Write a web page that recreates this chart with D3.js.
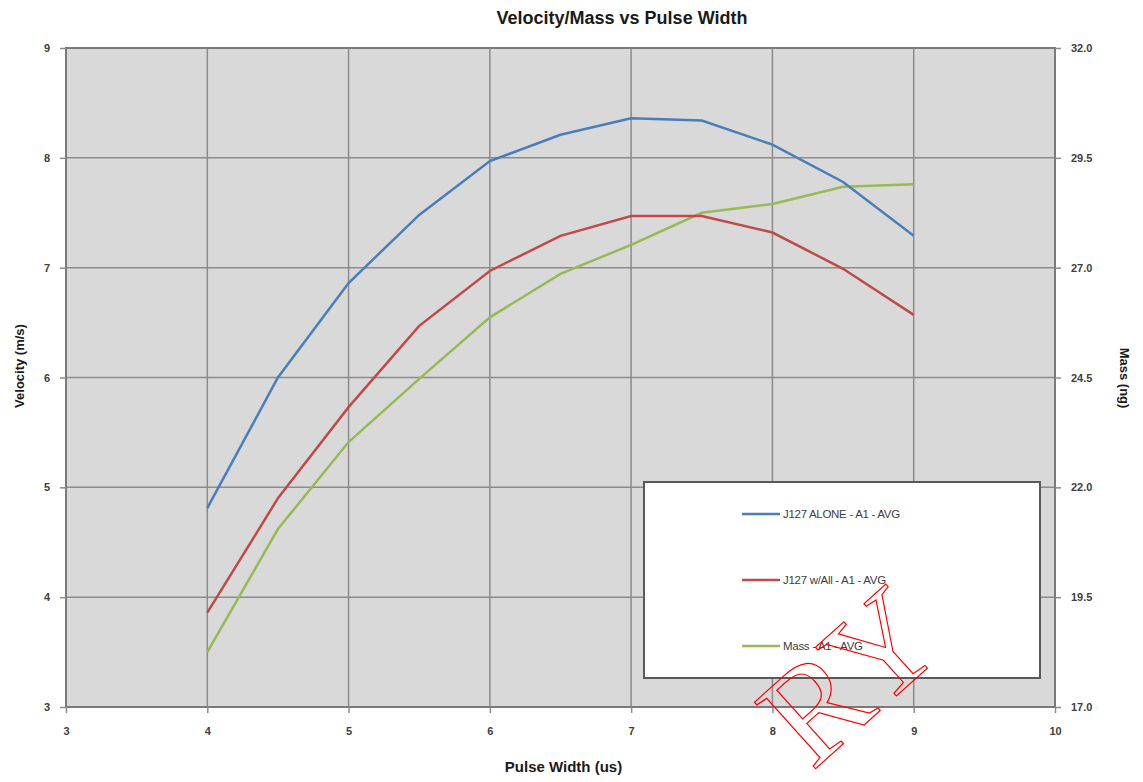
<!DOCTYPE html>
<html>
<head>
<meta charset="utf-8">
<script src="https://cdn.jsdelivr.net/npm/d3@7"></script>
<style>
body { margin: 0; background: #fff; }
text { font-family: "Liberation Sans", Arial, sans-serif; }
</style>
</head>
<body>
<script>
// data
var pulse = [4, 4.5, 5, 5.5, 6, 6.5, 7, 7.5, 8, 8.5, 9];
var aloneVel = [4.81, 6.0, 6.86, 7.48, 7.97, 8.21, 8.36, 8.34, 8.12, 7.78, 7.29];
var allVel = [3.86, 4.90, 5.73, 6.47, 6.97, 7.29, 7.47, 7.47, 7.32, 6.99, 6.57];
var massVals = [18.25, 21.05, 23.03, 24.47, 25.87, 26.86, 27.52, 28.25, 28.45, 28.84, 28.9];

var xTicks = [3, 4, 5, 6, 7, 8, 9, 10];
var leftTicks = [3, 4, 5, 6, 7, 8, 9];
var rightTicks = [17, 19.5, 22, 24.5, 27, 29.5, 32];
var seriesNames = ["J127 ALONE - A1 - AVG", "J127 w/All - A1 - AVG", "Mass - A1 - AVG"];
var seriesColors = ["#4a7ebb", "#be4b48", "#98b954"];

var width = 1143, height = 782;
var plotLeft = 66, plotRight = 1055, plotTop = 48, plotBottom = 707;

var svg = d3.select("body").append("svg")
    .attr("width", width).attr("height", height);

var x = d3.scaleLinear().domain([3, 10]).range([plotLeft, plotRight]);
var yL = d3.scaleLinear().domain([3, 9]).range([plotBottom, plotTop]);
var yR = d3.scaleLinear().domain([17, 32]).range([plotBottom, plotTop]);

// plot background
svg.append("rect")
    .attr("x", plotLeft).attr("y", plotTop)
    .attr("width", plotRight - plotLeft).attr("height", plotBottom - plotTop)
    .attr("fill", "#d9d9d9");

// grid
svg.append("g").selectAll("line").data(xTicks.slice(1, -1)).enter().append("line")
    .attr("x1", function(d) { return x(d); }).attr("x2", function(d) { return x(d); })
    .attr("y1", plotTop).attr("y2", plotBottom)
    .attr("stroke", "#8c8c8c").attr("stroke-width", 1.5);
svg.append("g").selectAll("line").data(leftTicks.slice(1, -1)).enter().append("line")
    .attr("x1", plotLeft).attr("x2", plotRight)
    .attr("y1", function(d) { return yL(d); }).attr("y2", function(d) { return yL(d); })
    .attr("stroke", "#8c8c8c").attr("stroke-width", 1.5);

// frame
svg.append("rect")
    .attr("x", plotLeft).attr("y", plotTop)
    .attr("width", plotRight - plotLeft).attr("height", plotBottom - plotTop)
    .attr("fill", "none").attr("stroke", "#7a7a7a").attr("stroke-width", 2);

// axes
function styleAxis(g) {
    g.select(".domain").remove();
    g.selectAll(".tick line").attr("stroke", "#8c8c8c").attr("stroke-width", 1.5);
    g.selectAll(".tick text").attr("fill", "#404040")
        .style("font-size", "11px").style("font-weight", "bold");
}

svg.append("g")
    .attr("transform", "translate(0," + plotBottom + ")")
    .call(d3.axisBottom(x).tickValues(xTicks).tickSize(6).tickPadding(14).tickFormat(d3.format("d")))
    .call(styleAxis);

svg.append("g")
    .attr("transform", "translate(" + plotLeft + ",0)")
    .call(d3.axisLeft(yL).tickValues(leftTicks).tickSize(6).tickPadding(10).tickFormat(d3.format("d")))
    .call(styleAxis);

svg.append("g")
    .attr("transform", "translate(" + plotRight + ",0)")
    .call(d3.axisRight(yR).tickValues(rightTicks).tickSize(6).tickPadding(10).tickFormat(d3.format(".1f")))
    .call(styleAxis);

// lines
var lineL = d3.line().x(function(d) { return x(d[0]); }).y(function(d) { return yL(d[1]); });
var lineR = d3.line().x(function(d) { return x(d[0]); }).y(function(d) { return yR(d[1]); });

var plotG = svg.append("g");
plotG.append("path").datum(d3.zip(pulse, massVals))
    .attr("d", lineR).attr("fill", "none")
    .attr("stroke", seriesColors[2]).attr("stroke-width", 2.5);
plotG.append("path").datum(d3.zip(pulse, allVel))
    .attr("d", lineL).attr("fill", "none")
    .attr("stroke", seriesColors[1]).attr("stroke-width", 2.5);
plotG.append("path").datum(d3.zip(pulse, aloneVel))
    .attr("d", lineL).attr("fill", "none")
    .attr("stroke", seriesColors[0]).attr("stroke-width", 2.5);

// legend
var lg = svg.append("g");
lg.append("rect")
    .attr("x", 644).attr("y", 482).attr("width", 396).attr("height", 196)
    .attr("fill", "#fff").attr("stroke", "#595959").attr("stroke-width", 2);
var items = lg.selectAll("g.item").data(seriesNames).enter().append("g")
    .attr("class", "item")
    .attr("transform", function(d, i) { return "translate(742," + (514 + i * 66) + ")"; });
items.append("line")
    .attr("x1", 0).attr("x2", 38).attr("y1", 0).attr("y2", 0)
    .attr("stroke", function(d, i) { return seriesColors[i]; })
    .attr("stroke-width", 2.5);
items.append("text")
    .attr("x", 41).attr("y", 4)
    .attr("fill", "#404040")
    .style("font-size", "11.5px")
    .style("letter-spacing", "-0.3px")
    .text(function(d) { return d; });

// titles
svg.append("text")
    .attr("x", 622).attr("y", 24)
    .attr("text-anchor", "middle")
    .style("font-size", "18px").style("font-weight", "bold")
    .attr("fill", "#1a1a1a")
    .text("Velocity/Mass vs Pulse Width");

svg.append("text")
    .attr("x", (plotLeft + plotRight) / 2 + 3).attr("y", 772)
    .attr("text-anchor", "middle")
    .style("font-size", "15px").style("font-weight", "bold")
    .attr("fill", "#1a1a1a")
    .text("Pulse Width (us)");

svg.append("text")
    .attr("transform", "translate(24,366) rotate(-90)")
    .attr("text-anchor", "middle")
    .style("font-size", "13px").style("font-weight", "bold")
    .attr("fill", "#1a1a1a")
    .text("Velocity (m/s)");

svg.append("text")
    .attr("transform", "translate(1120,378) rotate(90)")
    .attr("text-anchor", "middle")
    .style("font-size", "13px").style("font-weight", "bold")
    .attr("fill", "#1a1a1a")
    .text("Mass (ng)");

// watermark
svg.append("text")
    .attr("transform", "translate(812,772) rotate(-42)")
    .style("font-family", "'Liberation Serif', serif")
    .style("font-size", "138px")
    .attr("fill", "none").attr("stroke", "#ff0000").attr("stroke-width", 1.2)
    .text("RY");
</script>
</body>
</html>
